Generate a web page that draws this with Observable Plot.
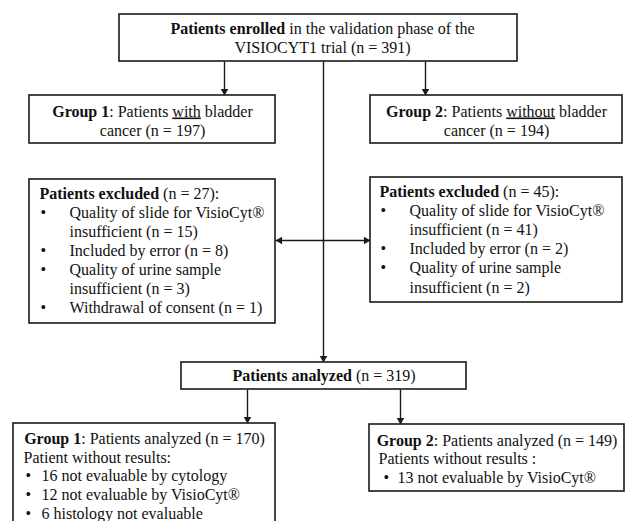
<!DOCTYPE html>
<html>
<head>
<meta charset="utf-8">
<script src="https://cdn.jsdelivr.net/npm/d3@7"></script>
<script src="https://cdn.jsdelivr.net/npm/@observablehq/plot@0.6"></script>
<style>
  html, body { margin: 0; padding: 0; background: #fff; }
  #chart svg { display: block; }
</style>
</head>
<body>
<div id="chart"></div>
<script>
// ---------- content (text & counts) ----------
const enrolledLines = ["**Patients enrolled** in the validation phase of the", "VISIOCYT1 trial (n = 391)"];
const group1Lines = ["**Group 1**: Patients __with__ bladder", "cancer (n = 197)"];
const group2Lines = ["**Group 2**: Patients __without__ bladder", "cancer (n = 194)"];
const excluded1Header = "**Patients excluded** (n = 27):";
const excluded1Items = [
  ["Quality of slide for VisioCyt®", "insufficient (n = 15)"],
  ["Included by error (n = 8)"],
  ["Quality of urine sample", "insufficient (n = 3)"],
  ["Withdrawal of consent (n = 1)"]
];
const excluded2Header = "**Patients excluded** (n = 45):";
const excluded2Items = [
  ["Quality of slide for VisioCyt®", "insufficient (n = 41)"],
  ["Included by error (n = 2)"],
  ["Quality of urine sample", "insufficient (n = 2)"]
];
const analyzedLine = "**Patients analyzed** (n = 319)";
const analyzed1Title = "**Group 1**: Patients analyzed (n = 170)";
const analyzed1Sub = "Patient without results:";
const analyzed1Items = ["16 not evaluable by cytology", "12 not evaluable by VisioCyt®", "6 histology not evaluable"];
const analyzed2Title = "**Group 2**: Patients analyzed (n = 149)";
const analyzed2Sub = "Patients without results :";
const analyzed2Items = ["13 not evaluable by VisioCyt®"];

// ---------- layout (diagram coordinates, y downward) ----------
const boxes = [
  {id: "enrolled",  x1: 119, x2: 517, y1: 14,  y2: 61},
  {id: "group1",    x1: 29,  x2: 275, y1: 95,  y2: 143},
  {id: "group2",    x1: 370, x2: 622, y1: 95,  y2: 143},
  {id: "excluded1", x1: 29,  x2: 275, y1: 179, y2: 323},
  {id: "excluded2", x1: 370, x2: 622, y1: 177, y2: 302},
  {id: "analyzed",  x1: 181, x2: 466, y1: 362, y2: 389},
  {id: "analyzed1", x1: 13,  x2: 275, y1: 423, y2: 540},
  {id: "analyzed2", x1: 369, x2: 624, y1: 424, y2: 491}
];
const connectors = [
  {x1: 224, y1: 61,  x2: 224, y2: 95,  dir: "down"},
  {x1: 425, y1: 61,  x2: 425, y2: 95,  dir: "down"},
  {x1: 323, y1: 61,  x2: 323, y2: 362, dir: "down"},
  {x1: 323, y1: 240, x2: 275, y2: 240, dir: "left"},
  {x1: 323, y1: 240, x2: 370, y2: 240, dir: "right"},
  {x1: 247, y1: 389, x2: 247, y2: 423, dir: "down"},
  {x1: 400, y1: 389, x2: 400, y2: 424, dir: "down"}
];

const LH = 19.1;
const centerTexts = [];
const leftTexts = [];
const centered = (lines, cx, y0, lh = LH) => lines.forEach((t, i) => centerTexts.push({x: cx, y: y0 + i * lh, text: t}));
const left = (t, x, y) => leftTexts.push({x, y, text: t});
function bulletList(items, bx, tx, y0, lh = LH) {
  let y = y0;
  for (const item of items) {
    left("•", bx, y);
    for (const line of [].concat(item)) { left(line, tx, y); y += lh; }
  }
}
centered(enrolledLines, 322, 33);
centered(group1Lines, 152, 116);
centered(group2Lines, 496, 116);
left(excluded1Header, 39, 198);
bulletList(excluded1Items, 40, 69, 198 + LH);
left(excluded2Header, 379, 196.5);
bulletList(excluded2Items, 380, 409, 196.5 + LH);
centered([analyzedLine], 323.5, 380);
centered([analyzed1Title], 144, 443.5);
left(analyzed1Sub, 23, 462);
bulletList(analyzed1Items, 25, 41, 480.8, 18.7);
centered([analyzed2Title], 496.5, 445);
left(analyzed2Sub, 378, 463.5);
bulletList(analyzed2Items, 383, 397, 482);

// arrowheads derived from connector ends
const R = 3.6;
const S = Math.sqrt(Math.PI * R * R) * 0.6824; // tip distance from symbol center
const rot = {down: 180, up: 0, left: 270, right: 90};
const vec = {down: [0, 1], up: [0, -1], left: [-1, 0], right: [1, 0]};
const heads = connectors.map(c => ({x: c.x2 - vec[c.dir][0] * S, y: c.y2 - vec[c.dir][1] * S, rotate: rot[c.dir]}));

const INK = "#1a1a1a";
const textOpts = {x: "x", y: "y", text: "text", lineAnchor: "bottom", fontSize: 16, fill: "#111"};
const chart = Plot.plot({
  width: 625,
  height: 521,
  margin: 0,
  x: {domain: [0, 625], axis: null},
  y: {domain: [0, 521], reverse: true, axis: null},
  style: {fontFamily: "'Liberation Serif', 'Times New Roman', serif", background: "#fff", overflow: "hidden"},
  marks: [
    Plot.link(connectors, {x1: "x1", y1: "y1", x2: "x2", y2: "y2", stroke: INK, strokeWidth: 1.4}),
    Plot.dot(heads, {x: "x", y: "y", rotate: "rotate", symbol: "triangle2", r: R, fill: INK, stroke: null}),
    Plot.rect(boxes, {x1: "x1", x2: "x2", y1: "y1", y2: "y2", fill: "#fff", stroke: INK, strokeWidth: 1.6}),
    Plot.text(centerTexts, {...textOpts, textAnchor: "middle"}),
    Plot.text(leftTexts, {...textOpts, textAnchor: "start"})
  ]
});

// rich text: **bold**, __underline__
const NS = "http://www.w3.org/2000/svg";
chart.querySelectorAll("text").forEach(t => {
  const s = t.textContent;
  if (!/\*\*|__/.test(s)) return;
  t.textContent = "";
  for (const p of s.split(/(\*\*[^*]+\*\*|__[^_]+__)/)) {
    if (!p) continue;
    const ts = document.createElementNS(NS, "tspan");
    if (p.startsWith("**")) { ts.setAttribute("font-weight", "bold"); ts.textContent = p.slice(2, -2); }
    else if (p.startsWith("__")) { ts.setAttribute("text-decoration", "underline"); ts.textContent = p.slice(2, -2); }
    else ts.textContent = p;
    t.appendChild(ts);
  }
});
document.getElementById("chart").appendChild(chart);
</script>
</body>
</html>
